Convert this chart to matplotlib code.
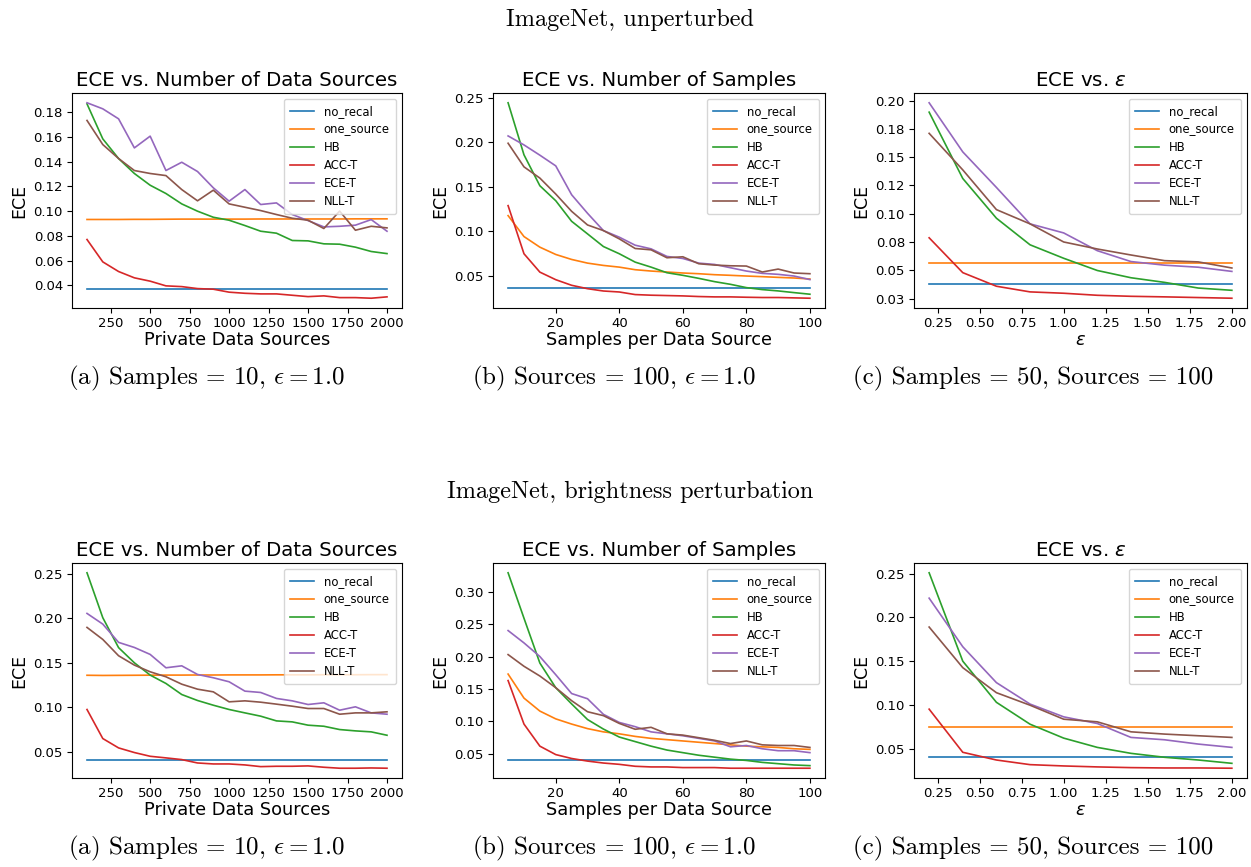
import matplotlib
matplotlib.use("Agg")
import matplotlib.pyplot as plt
from matplotlib.ticker import FixedLocator, FormatStrFormatter, MultipleLocator

plt.rcParams['mathtext.fontset'] = 'dejavusans'

labels = ["no_recal", "one_source", "HB", "ACC-T", "ECE-T", "NLL-T"]
colors = ["C0", "C1", "C2", "C3", "C4", "C5"]

# x values
sources = [100, 200, 300, 400, 500, 600, 700, 800, 900, 1000,
           1100, 1200, 1300, 1400, 1500, 1600, 1700, 1800, 1900, 2000]
samples = [5, 10, 15, 20, 25, 30, 35, 40, 45, 50,
           55, 60, 65, 70, 75, 80, 85, 90, 95, 100]
epsilons = [0.2, 0.4, 0.6, 0.8, 1.0, 1.2, 1.4, 1.6, 1.8, 2.0]

# ---------------- ImageNet, unperturbed ----------------
u_src_no_recal = [0.0373] * 20
u_src_one_source = [0.0932, 0.0932, 0.0932, 0.0933, 0.0933, 0.0934, 0.0935, 0.0935, 0.0935, 0.0935,
                    0.0935, 0.0936, 0.0936, 0.0936, 0.0936, 0.0936, 0.0936, 0.0937, 0.0937, 0.0937]
u_src_hb = [0.1867, 0.1584, 0.1425, 0.1304, 0.1209, 0.1142, 0.1058, 0.0999, 0.0950, 0.0926,
            0.0883, 0.0837, 0.0821, 0.0762, 0.0759, 0.0735, 0.0732, 0.0708, 0.0673, 0.0656]
u_src_acc = [0.0770, 0.0589, 0.0511, 0.0460, 0.0433, 0.0395, 0.0389, 0.0373, 0.0368, 0.0344,
             0.0335, 0.0330, 0.0330, 0.0319, 0.0308, 0.0314, 0.0300, 0.0300, 0.0295, 0.0306]
u_src_ece = [0.1876, 0.1827, 0.1746, 0.1511, 0.1606, 0.1328, 0.1395, 0.1320, 0.1188, 0.1080,
             0.1174, 0.1053, 0.1066, 0.0972, 0.0923, 0.0872, 0.0877, 0.0886, 0.0931, 0.0837]
u_src_nll = [0.1733, 0.1538, 0.1425, 0.1328, 0.1304, 0.1287, 0.1174, 0.1083, 0.1169, 0.1058,
             0.1031, 0.1004, 0.0972, 0.0942, 0.0926, 0.0859, 0.1000, 0.0845, 0.0877, 0.0864]

u_smp_no_recal = [0.0370] * 20
u_smp_one_source = [0.1178, 0.0943, 0.0824, 0.0742, 0.0686, 0.0645, 0.0619, 0.0600, 0.0571, 0.0556,
                    0.0545, 0.0534, 0.0526, 0.0515, 0.0508, 0.0500, 0.0493, 0.0485, 0.0478, 0.0467]
u_smp_hb = [0.2444, 0.1860, 0.1513, 0.1345, 0.1114, 0.0973, 0.0831, 0.0750, 0.0656, 0.0600,
            0.0537, 0.0508, 0.0474, 0.0437, 0.0407, 0.0370, 0.0348, 0.0333, 0.0314, 0.0296]
u_smp_acc = [0.1290, 0.0750, 0.0544, 0.0459, 0.0396, 0.0358, 0.0332, 0.0321, 0.0292, 0.0285,
             0.0281, 0.0277, 0.0270, 0.0266, 0.0266, 0.0262, 0.0259, 0.0259, 0.0255, 0.0251]
u_smp_ece = [0.2072, 0.1971, 0.1856, 0.1736, 0.1412, 0.1204, 0.1010, 0.0936, 0.0846, 0.0805,
             0.0720, 0.0697, 0.0645, 0.0630, 0.0593, 0.0556, 0.0530, 0.0519, 0.0500, 0.0460]
u_smp_nll = [0.1990, 0.1725, 0.1599, 0.1420, 0.1226, 0.1073, 0.1010, 0.0917, 0.0809, 0.0794,
             0.0705, 0.0716, 0.0638, 0.0623, 0.0615, 0.0612, 0.0545, 0.0578, 0.0534, 0.0526]

u_eps_no_recal = [0.0376] * 10
u_eps_one_source = [0.0567] * 10
u_eps_hb = [0.1897, 0.1311, 0.0960, 0.0725, 0.0606, 0.0498, 0.0434, 0.0393, 0.0343, 0.0323]
u_eps_acc = [0.0787, 0.0479, 0.0359, 0.0309, 0.0297, 0.0279, 0.0270, 0.0265, 0.0259, 0.0253]
u_eps_ece = [0.1980, 0.1546, 0.1232, 0.0910, 0.0830, 0.0673, 0.0577, 0.0545, 0.0527, 0.0490]
u_eps_nll = [0.1710, 0.1387, 0.1036, 0.0910, 0.0750, 0.0688, 0.0635, 0.0585, 0.0574, 0.0520]

# ---------------- ImageNet, brightness perturbation ----------------
b_src_no_recal = [0.0405] * 20
b_src_one_source = [0.1360, 0.1358, 0.1359, 0.1360, 0.1361, 0.1362, 0.1362, 0.1363, 0.1363, 0.1364,
                    0.1364, 0.1364, 0.1365, 0.1365, 0.1365, 0.1366, 0.1366, 0.1366, 0.1367, 0.1367]
b_src_hb = [0.2510, 0.2006, 0.1670, 0.1500, 0.1362, 0.1268, 0.1144, 0.1077, 0.1024, 0.0976,
            0.0938, 0.0901, 0.0848, 0.0837, 0.0800, 0.0788, 0.0751, 0.0736, 0.0725, 0.0687]
b_src_acc = [0.0976, 0.0650, 0.0545, 0.0493, 0.0451, 0.0433, 0.0414, 0.0376, 0.0365, 0.0365,
             0.0354, 0.0335, 0.0339, 0.0339, 0.0343, 0.0328, 0.0317, 0.0317, 0.0320, 0.0317]
b_src_ece = [0.2054, 0.1934, 0.1729, 0.1672, 0.1594, 0.1444, 0.1466, 0.1369, 0.1332, 0.1287,
             0.1182, 0.1167, 0.1100, 0.1073, 0.1032, 0.1051, 0.0968, 0.1006, 0.0938, 0.0923]
b_src_nll = [0.1897, 0.1762, 0.1579, 0.1474, 0.1399, 0.1343, 0.1260, 0.1204, 0.1174, 0.1062,
             0.1073, 0.1058, 0.1036, 0.1013, 0.0987, 0.0987, 0.0923, 0.0938, 0.0938, 0.0950]

b_smp_no_recal = [0.0408] * 20
b_smp_one_source = [0.1730, 0.1360, 0.1160, 0.1040, 0.0960, 0.0890, 0.0840, 0.0810, 0.0770, 0.0740,
                    0.0720, 0.0700, 0.0680, 0.0660, 0.0640, 0.0620, 0.0610, 0.0600, 0.0580, 0.0570]
b_smp_hb = [0.3290, 0.2590, 0.1900, 0.1520, 0.1270, 0.1030, 0.0883, 0.0760, 0.0690, 0.0620,
            0.0560, 0.0520, 0.0480, 0.0450, 0.0420, 0.0400, 0.0370, 0.0350, 0.0330, 0.0320]
b_smp_acc = [0.1630, 0.0960, 0.0620, 0.0490, 0.0430, 0.0390, 0.0360, 0.0340, 0.0310, 0.0300,
             0.0300, 0.0290, 0.0290, 0.0290, 0.0280, 0.0280, 0.0280, 0.0280, 0.0280, 0.0280]
b_smp_ece = [0.2400, 0.2210, 0.2000, 0.1720, 0.1430, 0.1350, 0.1110, 0.0985, 0.0920, 0.0840,
             0.0810, 0.0780, 0.0740, 0.0700, 0.0610, 0.0630, 0.0580, 0.0550, 0.0550, 0.0520]
b_smp_nll = [0.2030, 0.1850, 0.1700, 0.1520, 0.1320, 0.1150, 0.1090, 0.0970, 0.0880, 0.0910,
             0.0810, 0.0790, 0.0750, 0.0710, 0.0660, 0.0700, 0.0640, 0.0630, 0.0630, 0.0600]

b_eps_no_recal = [0.0401] * 10
b_eps_one_source = [0.0743] * 10
b_eps_hb = [0.2510, 0.1500, 0.1030, 0.0780, 0.0621, 0.0515, 0.0447, 0.0402, 0.0371, 0.0333]
b_eps_acc = [0.0952, 0.0459, 0.0371, 0.0318, 0.0303, 0.0292, 0.0284, 0.0280, 0.0280, 0.0277]
b_eps_ece = [0.2220, 0.1665, 0.1255, 0.1010, 0.0864, 0.0788, 0.0629, 0.0602, 0.0553, 0.0515]
b_eps_nll = [0.1890, 0.1426, 0.1140, 0.0997, 0.0837, 0.0807, 0.0693, 0.0667, 0.0648, 0.0629]

eps_ticks = [0.025 * k for k in range(1, 9)]

suptitles = ["ImageNet, unperturbed", "ImageNet, brightness perturbation"]
titles = ["ECE vs. Number of Data Sources", "ECE vs. Number of Samples", r"ECE vs. $\varepsilon$"]
xlabels = ["Private Data Sources", "Samples per Data Source", r"$\varepsilon$"]
captions = ["(a) Samples = 10, " + r"$\epsilon = 1.0$",
            "(b) Sources = 100, " + r"$\epsilon = 1.0$",
            "(c) Samples = 50, Sources = 100"]
caption_cx = [206, 614, 1033]

W, H = 1251, 867
fig = plt.figure(figsize=(W / 100, H / 100), dpi=100)

col_px = [(72, 402), (493, 825), (914, 1247)]
row_px = [(93, 308), (563, 778)]

data = [
    [(sources, [u_src_no_recal, u_src_one_source, u_src_hb, u_src_acc, u_src_ece, u_src_nll]),
     (samples, [u_smp_no_recal, u_smp_one_source, u_smp_hb, u_smp_acc, u_smp_ece, u_smp_nll]),
     (epsilons, [u_eps_no_recal, u_eps_one_source, u_eps_hb, u_eps_acc, u_eps_ece, u_eps_nll])],
    [(sources, [b_src_no_recal, b_src_one_source, b_src_hb, b_src_acc, b_src_ece, b_src_nll]),
     (samples, [b_smp_no_recal, b_smp_one_source, b_smp_hb, b_smp_acc, b_smp_ece, b_smp_nll]),
     (epsilons, [b_eps_no_recal, b_eps_one_source, b_eps_hb, b_eps_acc, b_eps_ece, b_eps_nll])],
]

for r, (top, bot) in enumerate(row_px):
    for c, (left, right) in enumerate(col_px):
        ax = fig.add_axes([left / W, 1 - bot / H, (right - left) / W, (bot - top) / H])
        xs, series = data[r][c]
        for ys, lab, col in zip(series, labels, colors):
            ax.plot(xs, ys, color=col, lw=1.2, label=lab)
        ax.set_title(titles[c], fontsize=14.2, pad=5)
        ax.set_xlabel(xlabels[c], fontsize=12.8, labelpad=1)
        ax.set_ylabel("ECE", fontsize=12.5, labelpad=4)
        ax.tick_params(labelsize=9.5, length=3.5, pad=3)
        ax.legend(loc="upper right", fontsize=8.4, handlelength=2.1, labelspacing=0.42,
                  borderpad=0.55, framealpha=0.8)
        if c == 0:
            ax.xaxis.set_major_locator(MultipleLocator(250))
        if r == 0 and c == 0:
            ax.yaxis.set_major_locator(MultipleLocator(0.02))
        if r == 0 and c == 2:
            ax.yaxis.set_major_locator(FixedLocator(eps_ticks))
            ax.yaxis.set_major_formatter(FormatStrFormatter('%.2f'))
        fig.text(caption_cx[c] / W, 1 - (bot + 70) / H, captions[c],
                 ha="center", va="center", fontsize=18, family="cmr10",
                 math_fontfamily="cm")

fig.text(630 / W, 1 - 20 / H, suptitles[0], ha="center", va="center", fontsize=17.5, family="cmr10")
fig.text(630 / W, 1 - 492 / H, suptitles[1], ha="center", va="center", fontsize=17.5, family="cmr10")

fig.savefig("out.png", dpi=100)
